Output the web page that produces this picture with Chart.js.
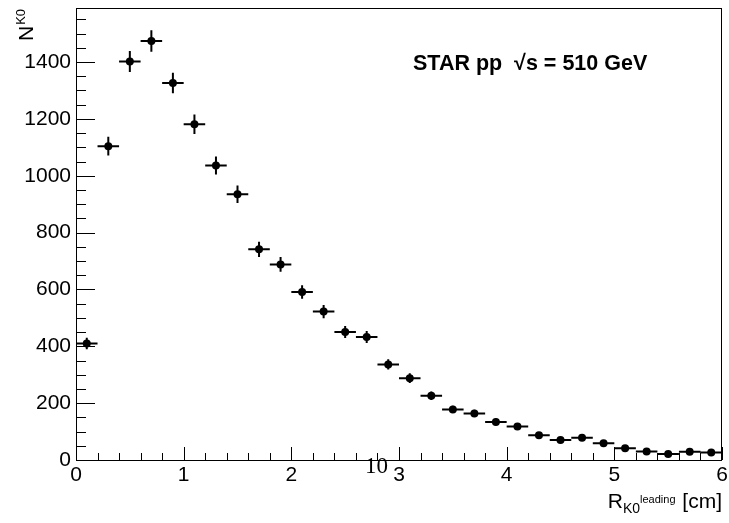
<!DOCTYPE html>
<html>
<head>
<meta charset="utf-8">
<script src="https://cdn.jsdelivr.net/npm/chart.js@4/dist/chart.umd.min.js"></script>
<style>
  html, body { margin: 0; padding: 0; background: #fff; }
  #wrap { width: 729px; height: 523px; }
</style>
</head>
<body>
<div id="wrap"><canvas id="chart" width="729" height="523"></canvas></div>
<script>
// Bin centres (cm), counts and errors
const binCenters = [0.1, 0.3, 0.5, 0.7, 0.9, 1.1, 1.3, 1.5, 1.7, 1.9,
                    2.1, 2.3, 2.5, 2.7, 2.9, 3.1, 3.3, 3.5, 3.7, 3.9,
                    4.1, 4.3, 4.5, 4.7, 4.9, 5.1, 5.3, 5.5, 5.7, 5.9];
const counts = [410, 1104, 1402, 1474, 1326, 1181, 1036, 935, 741, 688,
                591, 522, 450, 433, 336, 288, 226, 178, 164, 134,
                118, 87, 70, 78, 59, 41, 30, 21, 29, 26];
const countErrors = [20, 33, 37, 38, 36, 34, 32, 31, 27, 26,
                     24, 23, 21, 21, 18, 17, 15, 13, 13, 12,
                     11, 9, 8, 9, 8, 6, 5.5, 4.5, 5.4, 5];
const binHalfWidth = 0.1;

const xTickLabels = [0, 1, 2, 3, 4, 5, 6];
const yTickLabels = [0, 200, 400, 600, 800, 1000, 1200, 1400];

const SANS = '"Liberation Sans", Arial, Helvetica, sans-serif';

// ROOT style: ticks drawn inside the frame
const frameTicks = {
  id: 'frameTicks',
  afterDraw(chart) {
    const { ctx, chartArea: a, scales: { x, y } } = chart;
    ctx.save();
    ctx.strokeStyle = '#000';
    ctx.lineWidth = 1;
    ctx.beginPath();
    for (let i = 0; i <= 30; i++) {
      const px = Math.round(x.getPixelForValue(i * 0.2)) + 0.5;
      const len = i % 5 === 0 ? 13 : 7;
      ctx.moveTo(px, a.bottom);
      ctx.lineTo(px, a.bottom - len);
    }
    for (let i = 0; i * 50 <= y.max; i++) {
      const py = Math.round(y.getPixelForValue(i * 50)) + 0.5;
      const len = i % 4 === 0 ? 19 : 10;
      ctx.moveTo(a.left, py);
      ctx.lineTo(a.left + len, py);
    }
    ctx.stroke();
    ctx.strokeRect(a.left + 0.5, a.top + 0.5, a.right - a.left - 1, a.bottom - a.top);
    ctx.restore();
  }
};

const errorBars = {
  id: 'errorBars',
  beforeDatasetsDraw(chart) {
    const { ctx, scales: { x, y } } = chart;
    ctx.save();
    ctx.strokeStyle = '#000';
    ctx.lineWidth = 2;
    ctx.beginPath();
    binCenters.forEach((c, i) => {
      const px = x.getPixelForValue(c);
      const py = y.getPixelForValue(counts[i]);
      ctx.moveTo(x.getPixelForValue(c - binHalfWidth), py);
      ctx.lineTo(x.getPixelForValue(c + binHalfWidth), py);
      ctx.moveTo(px, y.getPixelForValue(counts[i] - countErrors[i]));
      ctx.lineTo(px, y.getPixelForValue(counts[i] + countErrors[i]));
    });
    ctx.stroke();
    ctx.restore();
  }
};

const labels = {
  id: 'labels',
  afterDraw(chart) {
    const { ctx, chartArea: a } = chart;
    ctx.save();
    ctx.fillStyle = '#000';
    ctx.textBaseline = 'alphabetic';

    // y title N^{K0}, rotated
    ctx.save();
    ctx.translate(33, 41);
    ctx.rotate(-Math.PI / 2);
    ctx.font = '21px ' + SANS;
    ctx.fillText('N', 0, 0);
    const nw = ctx.measureText('N').width;
    ctx.font = '13px ' + SANS;
    ctx.fillText('K0', nw + 1, -8);
    ctx.restore();

    // x title R_{K0^{leading}} [cm], right aligned to the frame
    const parts = [
      { t: 'R', f: '21px ', dy: 0, gap: 0 },
      { t: 'K0', f: '14px ', dy: 5, gap: 0 },
      { t: 'leading', f: '11px ', dy: -5, gap: 1 },
      { t: ' [cm]', f: '21px ', dy: 0, gap: 0 }
    ];
    let total = 0;
    parts.forEach(p => {
      ctx.font = p.f + SANS;
      p.w = ctx.measureText(p.t).width;
      total += p.w + p.gap;
    });
    let cx = a.right - total;
    parts.forEach(p => {
      ctx.font = p.f + SANS;
      ctx.fillText(p.t, cx, 508 + p.dy);
      cx += p.w + p.gap;
    });

    // STAR label
    ctx.font = 'bold 21.5px ' + SANS;
    ctx.fillText('STAR pp  \u221As = 510 GeV', 413, 70);

    // stray exponent label
    ctx.font = '23px "Liberation Serif", "Times New Roman", serif';
    ctx.fillText('10', 365, 473);
    ctx.restore();
  }
};

new Chart(document.getElementById('chart'), {
  type: 'scatter',
  data: {
    datasets: [{
      data: binCenters.map((c, i) => ({ x: c, y: counts[i] })),
      backgroundColor: '#000',
      borderColor: '#000',
      pointRadius: 4,
      pointHoverRadius: 4,
      borderWidth: 0
    }]
  },
  options: {
    responsive: false,
    animation: false,
    events: [],
    layout: { padding: { top: 8, right: 7, left: 0, bottom: 0 } },
    plugins: { legend: { display: false }, tooltip: { enabled: false } },
    scales: {
      x: {
        type: 'linear',
        min: 0,
        max: 6,
        afterBuildTicks: s => { s.ticks = xTickLabels.map(v => ({ value: v })); },
        afterFit: s => { s.height = 63; s.paddingLeft = 0; s.paddingRight = 0; },
        grid: { display: false, drawTicks: false },
        border: { display: false },
        ticks: {
          color: '#000',
          font: { family: SANS, size: 21 },
          padding: 3,
          maxRotation: 0,
          autoSkip: false,
          callback: v => String(v)
        }
      },
      y: {
        type: 'linear',
        min: 0,
        max: 1590,
        afterBuildTicks: s => { s.ticks = yTickLabels.map(v => ({ value: v })); },
        afterFit: s => { s.width = 76; s.paddingTop = 0; s.paddingBottom = 0; },
        grid: { display: false, drawTicks: false },
        border: { display: false },
        ticks: {
          color: '#000',
          font: { family: SANS, size: 21 },
          padding: 5,
          autoSkip: false,
          callback: v => String(v)
        }
      }
    }
  },
  plugins: [errorBars, frameTicks, labels]
});
</script>
</body>
</html>
